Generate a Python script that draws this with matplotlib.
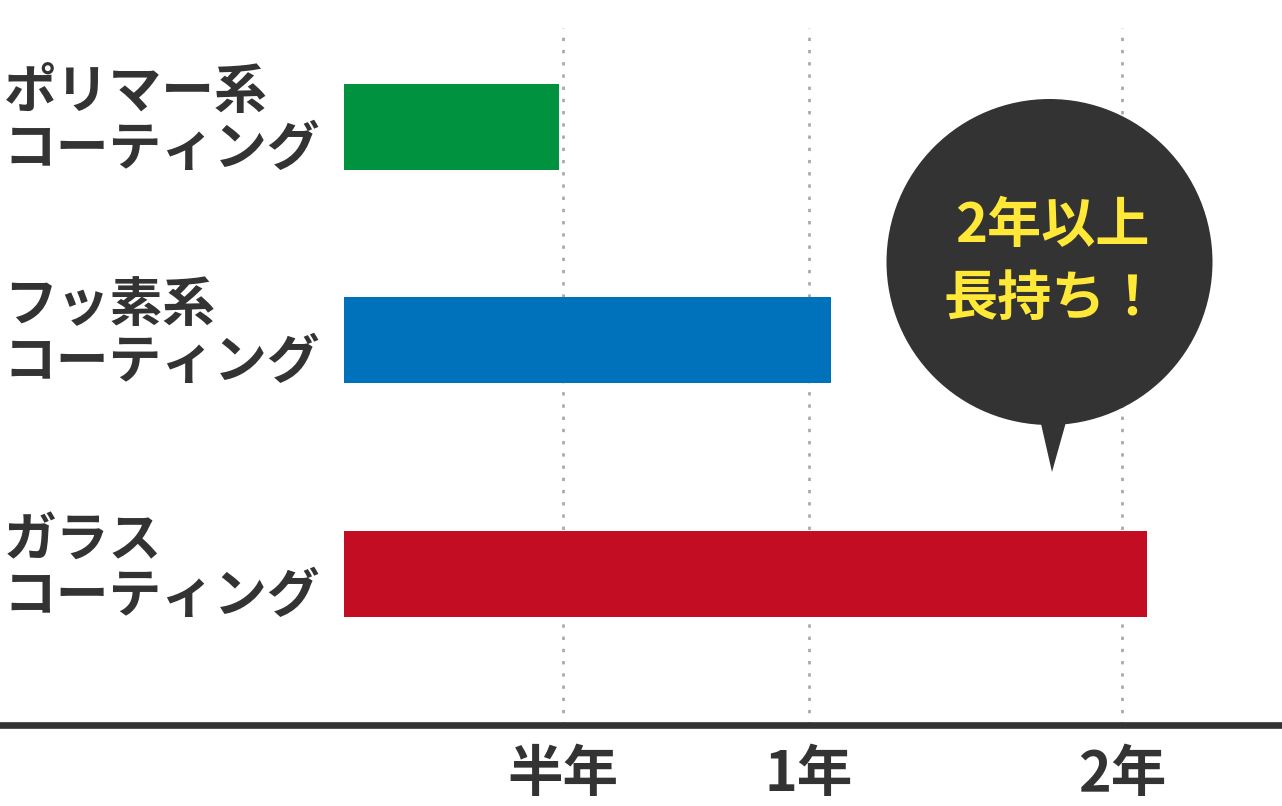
import numpy as np
import matplotlib
matplotlib.use('Agg')
import matplotlib.pyplot as plt
from matplotlib import transforms
from matplotlib.patches import Circle, Polygon

plt.rcParams['font.family'] = ['Noto Sans CJK JP', 'DejaVu Sans']

# data
categories = ['ポリマー系\nコーティング', 'フッ素系\nコーティング', 'ガラス\nコーティング']
durations = [0.49, 1.07, 2.08]  # years
bar_colors = ['#00923F', '#0071BB', '#C30D23']
tick_values = [0.5, 1, 2]
tick_labels = ['半年', '1年', '2年']
callout = '2年以上\n長持ち！'

# layout
row_pos = [0, 1, 2.1]
TEXT = '#333333'

# the x axis is not linear: half year, 1 year and 2 years sit at uneven gaps
knot_years = [-10, 0, 0.5, 1, 2, 10]
knot_px = [-4036, 344, 563, 809, 1122, 3626]


def fwd(x):
    return np.interp(x, knot_years, knot_px)


def inv(p):
    return np.interp(p, knot_px, knot_years)


fig = plt.figure(figsize=(12.82, 8.06), dpi=100)
ax = fig.add_axes([0, 81 / 806, 1, 697 / 806])
ax.set_xscale('function', functions=(fwd, inv))
ax.set_xlim(inv(0), inv(1282))
ax.set_ylim(2.808, -0.465)

ax.barh(row_pos, durations, height=0.404, color=bar_colors, zorder=2)

ax.set_xticks(tick_values)
ax.set_xticklabels(tick_labels, fontsize=40, fontweight='bold', color=TEXT)
ax.tick_params(axis='x', length=0, pad=16)
ax.set_yticks([])
ax.xaxis.grid(True, color='#aaaaaa', linewidth=2, linestyle=(0, (1.2, 3.2)))
ax.set_axisbelow(True)

for s in ['top', 'left', 'right']:
    ax.spines[s].set_visible(False)
ax.spines['bottom'].set_color(TEXT)
ax.spines['bottom'].set_linewidth(4.8)

# category labels on the left
lab_tr = transforms.blended_transform_factory(ax.transAxes, ax.transData)
lab_tr = transforms.offset_copy(lab_tr, fig=fig, y=6, units='dots')
for y, lab in zip(row_pos, categories):
    ax.text(0.003, y, lab, transform=lab_tr, ha='left', va='center',
            fontsize=38, fontweight='bold', color=TEXT, linespacing=1.08)

# speech balloon
tr = fig.dpi_scale_trans
fig.patches.append(Circle((10.495, 5.44), 1.63, transform=tr, facecolor='#333333',
                          edgecolor='none'))
fig.patches.append(Polygon([(10.39, 3.91), (10.68, 3.91), (10.52, 3.34)], closed=True,
                           transform=tr, facecolor='#333333', edgecolor='none'))
fig.text(10.52, 5.43, callout, transform=tr, ha='center', va='center', fontsize=39,
         fontweight='bold', color='#FFE838', linespacing=1.42)

fig.savefig('out.png', dpi=100, facecolor='white')
